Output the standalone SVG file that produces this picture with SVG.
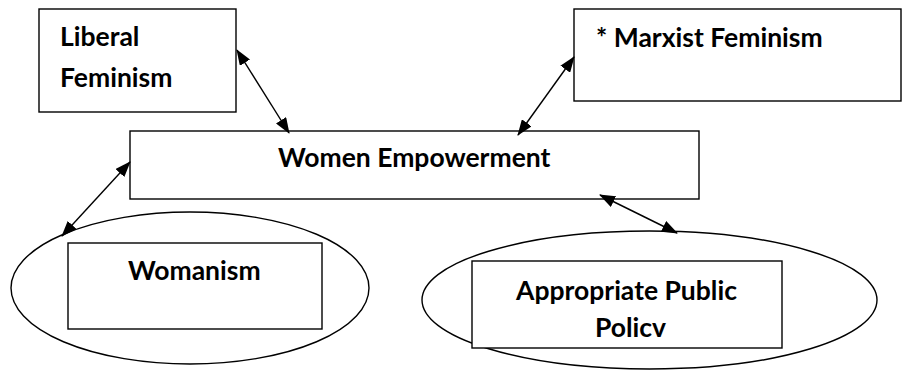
<svg xmlns="http://www.w3.org/2000/svg" width="902" height="371" viewBox="0 0 902 371">
<style>
.b{fill:#fff;stroke:#000;stroke-width:1.4}
.t{font-family:Lato,"Open Sans","Liberation Sans",sans-serif;font-weight:bold;font-size:26.5px;fill:#000}
.c{stroke:#000;stroke-width:1.4;fill:none;marker-start:url(#a);marker-end:url(#a)}
</style>
<defs>
<marker id="a" viewBox="0 0 16 12" refX="15" refY="6" markerWidth="16" markerHeight="12" markerUnits="userSpaceOnUse" orient="auto-start-reverse">
<path d="M0,0 L16,6 L0,12 Z" fill="#000"/>
</marker>
</defs>
<rect width="902" height="371" fill="#fff"/>
<g id="liberal">
<rect class="b" x="39" y="9" width="197" height="103"/>
<text class="t" x="60" y="46">Liberal</text>
<text class="t" x="60" y="87">Feminism</text>
</g>
<g id="marxist">
<rect class="b" x="574" y="9" width="327" height="92"/>
<text class="t" x="596" y="47">* Marxist Feminism</text>
</g>
<g id="women">
<rect class="b" x="130" y="131" width="569" height="68"/>
<text class="t" x="278" y="167">Women Empowerment</text>
</g>
<g id="womanism">
<ellipse class="b" cx="190" cy="288" rx="179" ry="76"/>
<rect class="b" x="68" y="243" width="254" height="86"/>
<text class="t" x="128" y="280">Womanism</text>
</g>
<g id="policy">
<ellipse class="b" cx="649.5" cy="300" rx="227.5" ry="69"/>
<rect class="b" x="472" y="261" width="310" height="87"/>
<text class="t" x="516" y="300">Appropriate Public</text>
<text class="t" x="595" y="337">Policv</text>
</g>
<g id="connectors">
<line class="c" x1="237" y1="50" x2="289" y2="133"/>
<line class="c" x1="574" y1="57" x2="518" y2="135"/>
<line class="c" x1="130" y1="162" x2="62" y2="236"/>
<line class="c" x1="600" y1="195" x2="677" y2="233"/>
</g>
</svg>
